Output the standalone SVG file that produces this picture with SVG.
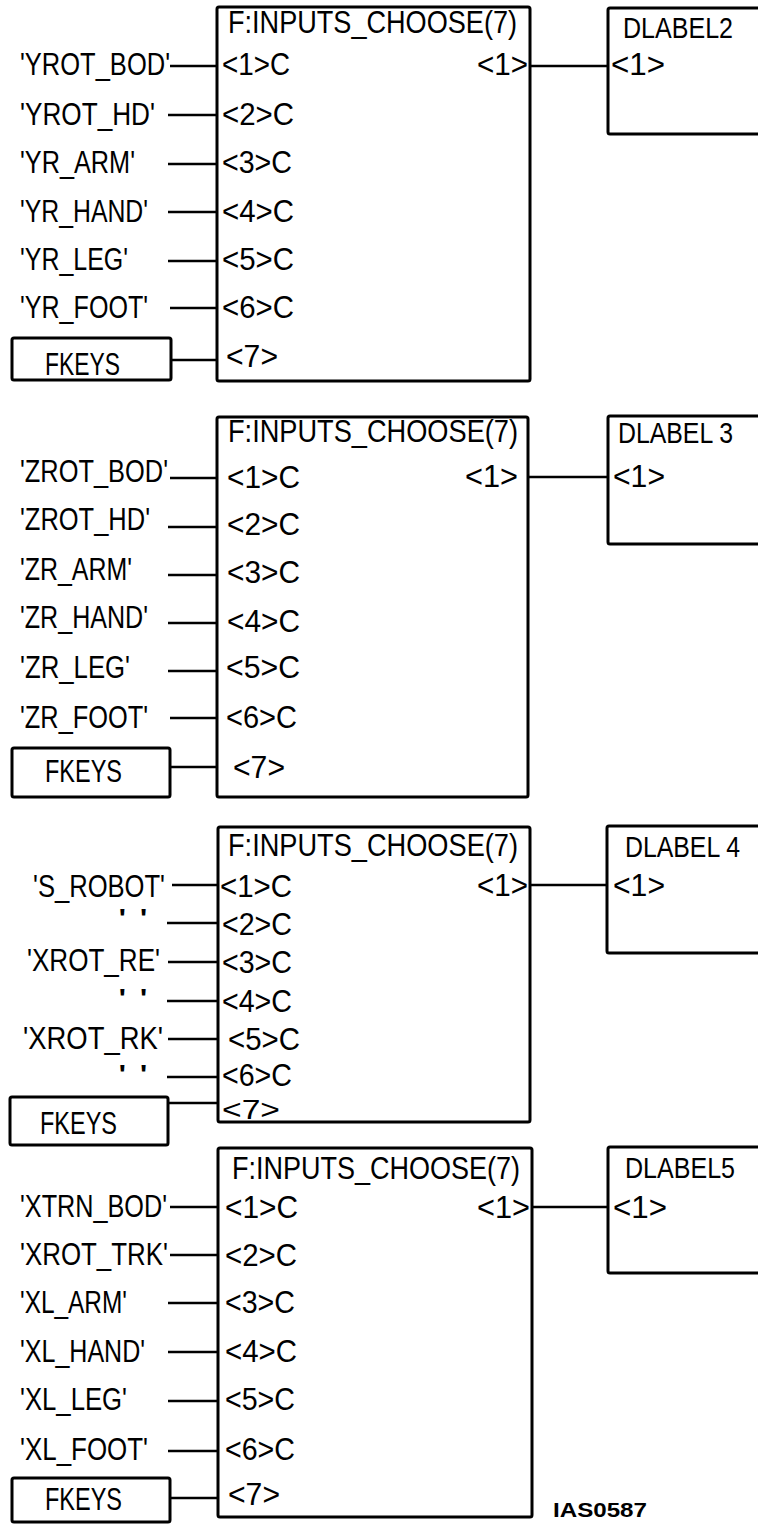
<svg xmlns="http://www.w3.org/2000/svg" width="758" height="1525" viewBox="0 0 758 1525">
<style>
.t{font-family:"Liberation Sans",Arial,sans-serif;font-size:31px;fill:#000}
.s{font-family:"Liberation Sans",Arial,sans-serif;font-size:28px;fill:#000}
.d{font-family:"Liberation Sans",Arial,sans-serif;font-size:29px;fill:#000}
.q{font-family:"Liberation Sans",Arial,sans-serif;font-size:29px;fill:#000}
.box{fill:none;stroke:#000;stroke-width:3}
.c{fill:none;stroke:#000;stroke-width:2.5}
.id{font-family:"Liberation Sans",Arial,sans-serif;font-size:20px;font-weight:bold;fill:#000}
</style>
<rect width="758" height="1525" fill="#fff"/>

<!-- Block 1 -->
<g id="choose1">
<rect class="box" x="217" y="7" width="313" height="374" rx="2"/>
<text class="t" x="228" y="33" textLength="289" lengthAdjust="spacingAndGlyphs">F:INPUTS_CHOOSE(7)</text>
<text class="t" x="222" y="75" textLength="68" lengthAdjust="spacingAndGlyphs">&lt;1&gt;C</text>
<text class="t" x="222" y="125" textLength="72" lengthAdjust="spacingAndGlyphs">&lt;2&gt;C</text>
<text class="t" x="222" y="173" textLength="70" lengthAdjust="spacingAndGlyphs">&lt;3&gt;C</text>
<text class="t" x="222" y="222" textLength="72" lengthAdjust="spacingAndGlyphs">&lt;4&gt;C</text>
<text class="t" x="222" y="270" textLength="72" lengthAdjust="spacingAndGlyphs">&lt;5&gt;C</text>
<text class="t" x="222" y="318" textLength="72" lengthAdjust="spacingAndGlyphs">&lt;6&gt;C</text>
<text class="t" x="226" y="367" textLength="52" lengthAdjust="spacingAndGlyphs">&lt;7&gt;</text>
<text class="t" x="477" y="75" textLength="51" lengthAdjust="spacingAndGlyphs">&lt;1&gt;</text>
</g>
<g id="dlabel2">
<rect class="box" x="608" y="8" width="170" height="126" rx="2"/>
<text class="d" x="623" y="38" textLength="110" lengthAdjust="spacingAndGlyphs">DLABEL2</text>
<text class="t" x="611" y="75" textLength="54" lengthAdjust="spacingAndGlyphs">&lt;1&gt;</text>
</g>
<g id="fkeys1">
<rect class="box" x="12" y="338" width="159" height="42" rx="2"/>
<text class="t" x="45" y="375" textLength="75" lengthAdjust="spacingAndGlyphs">FKEYS</text>
</g>
<g id="consts1">
<text class="t" x="20" y="75" textLength="150" lengthAdjust="spacingAndGlyphs">'YROT_BOD'</text>
<text class="t" x="20" y="125" textLength="135" lengthAdjust="spacingAndGlyphs">'YROT_HD'</text>
<text class="t" x="20" y="173" textLength="115" lengthAdjust="spacingAndGlyphs">'YR_ARM'</text>
<text class="t" x="20" y="222" textLength="128" lengthAdjust="spacingAndGlyphs">'YR_HAND'</text>
<text class="t" x="20" y="270" textLength="108" lengthAdjust="spacingAndGlyphs">'YR_LEG'</text>
<text class="t" x="20" y="318" textLength="128" lengthAdjust="spacingAndGlyphs">'YR_FOOT'</text>
</g>

<!-- Block 2 -->
<g id="choose2">
<rect class="box" x="217" y="417" width="311" height="380" rx="2"/>
<text class="t" x="228" y="442" textLength="290" lengthAdjust="spacingAndGlyphs">F:INPUTS_CHOOSE(7)</text>
<text class="t" x="227" y="488" textLength="73" lengthAdjust="spacingAndGlyphs">&lt;1&gt;C</text>
<text class="t" x="227" y="535" textLength="73" lengthAdjust="spacingAndGlyphs">&lt;2&gt;C</text>
<text class="t" x="227" y="583" textLength="73" lengthAdjust="spacingAndGlyphs">&lt;3&gt;C</text>
<text class="t" x="227" y="632" textLength="73" lengthAdjust="spacingAndGlyphs">&lt;4&gt;C</text>
<text class="t" x="226" y="678" textLength="74" lengthAdjust="spacingAndGlyphs">&lt;5&gt;C</text>
<text class="t" x="226" y="728" textLength="71" lengthAdjust="spacingAndGlyphs">&lt;6&gt;C</text>
<text class="t" x="233" y="778" textLength="52" lengthAdjust="spacingAndGlyphs">&lt;7&gt;</text>
<text class="t" x="465" y="487" textLength="53" lengthAdjust="spacingAndGlyphs">&lt;1&gt;</text>
</g>
<g id="dlabel3">
<rect class="box" x="608" y="416" width="170" height="128" rx="2"/>
<text class="d" x="618" y="443" textLength="115" lengthAdjust="spacingAndGlyphs">DLABEL 3</text>
<text class="t" x="613" y="487" textLength="52" lengthAdjust="spacingAndGlyphs">&lt;1&gt;</text>
</g>
<g id="fkeys2">
<rect class="box" x="12" y="748" width="158" height="49" rx="2"/>
<text class="t" x="45" y="782" textLength="77" lengthAdjust="spacingAndGlyphs">FKEYS</text>
</g>
<g id="consts2">
<text class="t" x="20" y="482" textLength="148" lengthAdjust="spacingAndGlyphs">'ZROT_BOD'</text>
<text class="t" x="20" y="530" textLength="130" lengthAdjust="spacingAndGlyphs">'ZROT_HD'</text>
<text class="t" x="20" y="580" textLength="112" lengthAdjust="spacingAndGlyphs">'ZR_ARM'</text>
<text class="t" x="20" y="628" textLength="128" lengthAdjust="spacingAndGlyphs">'ZR_HAND'</text>
<text class="t" x="20" y="678" textLength="110" lengthAdjust="spacingAndGlyphs">'ZR_LEG'</text>
<text class="t" x="20" y="728" textLength="128" lengthAdjust="spacingAndGlyphs">'ZR_FOOT'</text>
</g>

<!-- Block 3 -->
<g id="choose3">
<rect class="box" x="218" y="827" width="312" height="295" rx="2"/>
<text class="t" x="228" y="856" textLength="290" lengthAdjust="spacingAndGlyphs">F:INPUTS_CHOOSE(7)</text>
<text class="t" x="220" y="897" textLength="72" lengthAdjust="spacingAndGlyphs">&lt;1&gt;C</text>
<text class="t" x="222" y="935" textLength="70" lengthAdjust="spacingAndGlyphs">&lt;2&gt;C</text>
<text class="t" x="222" y="973" textLength="70" lengthAdjust="spacingAndGlyphs">&lt;3&gt;C</text>
<text class="t" x="222" y="1012" textLength="70" lengthAdjust="spacingAndGlyphs">&lt;4&gt;C</text>
<text class="t" x="228" y="1050" textLength="72" lengthAdjust="spacingAndGlyphs">&lt;5&gt;C</text>
<text class="t" x="222" y="1086" textLength="70" lengthAdjust="spacingAndGlyphs">&lt;6&gt;C</text>
<text class="s" x="222" y="1119" textLength="58" lengthAdjust="spacingAndGlyphs">&lt;7&gt;</text>
<text class="t" x="477" y="896" textLength="51" lengthAdjust="spacingAndGlyphs">&lt;1&gt;</text>
</g>
<g id="dlabel4">
<rect class="box" x="607" y="826" width="170" height="127" rx="2"/>
<text class="d" x="625" y="857" textLength="115" lengthAdjust="spacingAndGlyphs">DLABEL 4</text>
<text class="t" x="613" y="896" textLength="52" lengthAdjust="spacingAndGlyphs">&lt;1&gt;</text>
</g>
<g id="fkeys3">
<rect class="box" x="10" y="1097" width="158" height="48" rx="2"/>
<text class="t" x="40" y="1134" textLength="77" lengthAdjust="spacingAndGlyphs">FKEYS</text>
</g>
<g id="consts3">
<text class="t" x="33" y="897" textLength="132" lengthAdjust="spacingAndGlyphs">'S_ROBOT'</text>
<text class="q" x="118" y="929" textLength="30" lengthAdjust="spacingAndGlyphs">' '</text>
<text class="t" x="27" y="971" textLength="133" lengthAdjust="spacingAndGlyphs">'XROT_RE'</text>
<text class="q" x="118" y="1009" textLength="30" lengthAdjust="spacingAndGlyphs">' '</text>
<text class="t" x="23" y="1049" textLength="140" lengthAdjust="spacingAndGlyphs">'XROT_RK'</text>
<text class="q" x="118" y="1085" textLength="30" lengthAdjust="spacingAndGlyphs">' '</text>
</g>

<!-- Block 4 -->
<g id="choose4">
<rect class="box" x="218" y="1148" width="314" height="369" rx="2"/>
<text class="t" x="232" y="1179" textLength="288" lengthAdjust="spacingAndGlyphs">F:INPUTS_CHOOSE(7)</text>
<text class="t" x="225" y="1218" textLength="73" lengthAdjust="spacingAndGlyphs">&lt;1&gt;C</text>
<text class="t" x="225" y="1266" textLength="72" lengthAdjust="spacingAndGlyphs">&lt;2&gt;C</text>
<text class="t" x="225" y="1313" textLength="70" lengthAdjust="spacingAndGlyphs">&lt;3&gt;C</text>
<text class="t" x="225" y="1362" textLength="72" lengthAdjust="spacingAndGlyphs">&lt;4&gt;C</text>
<text class="t" x="225" y="1410" textLength="70" lengthAdjust="spacingAndGlyphs">&lt;5&gt;C</text>
<text class="t" x="225" y="1460" textLength="70" lengthAdjust="spacingAndGlyphs">&lt;6&gt;C</text>
<text class="t" x="228" y="1505" textLength="52" lengthAdjust="spacingAndGlyphs">&lt;7&gt;</text>
<text class="t" x="477" y="1218" textLength="53" lengthAdjust="spacingAndGlyphs">&lt;1&gt;</text>
</g>
<g id="dlabel5">
<rect class="box" x="608" y="1147" width="170" height="126" rx="2"/>
<text class="d" x="625" y="1178" textLength="110" lengthAdjust="spacingAndGlyphs">DLABEL5</text>
<text class="t" x="613" y="1218" textLength="54" lengthAdjust="spacingAndGlyphs">&lt;1&gt;</text>
</g>
<g id="fkeys4">
<rect class="box" x="12" y="1478" width="158" height="44" rx="2"/>
<text class="t" x="45" y="1510" textLength="77" lengthAdjust="spacingAndGlyphs">FKEYS</text>
</g>
<g id="consts4">
<text class="t" x="20" y="1217" textLength="147" lengthAdjust="spacingAndGlyphs">'XTRN_BOD'</text>
<text class="t" x="20" y="1265" textLength="148" lengthAdjust="spacingAndGlyphs">'XROT_TRK'</text>
<text class="t" x="20" y="1313" textLength="107" lengthAdjust="spacingAndGlyphs">'XL_ARM'</text>
<text class="t" x="20" y="1362" textLength="125" lengthAdjust="spacingAndGlyphs">'XL_HAND'</text>
<text class="t" x="20" y="1410" textLength="107" lengthAdjust="spacingAndGlyphs">'XL_LEG'</text>
<text class="t" x="20" y="1460" textLength="128" lengthAdjust="spacingAndGlyphs">'XL_FOOT'</text>
</g>

<text id="figid" class="id" x="553" y="1517" textLength="94" lengthAdjust="spacingAndGlyphs">IAS0587</text>

<g id="connectors">
<path class="c" d="M170 66H217M168 115H217M168 164H217M168 212H217M168 261H217M170 308H217M171 360H217M530 66H608"/>
<path class="c" d="M170 478H217M168 527H217M168 575H217M168 623H217M168 671H217M170 718H217M170 767H217M528 477H608"/>
<path class="c" d="M172 885H218M167 923H218M168 962H218M167 1001H218M168 1039H218M167 1077H218M168 1103H218M530 885H607"/>
<path class="c" d="M170 1207H218M170 1255H218M168 1303H218M168 1352H218M168 1401H218M168 1451H218M170 1498H218M532 1207H608"/>
</g>
</svg>
